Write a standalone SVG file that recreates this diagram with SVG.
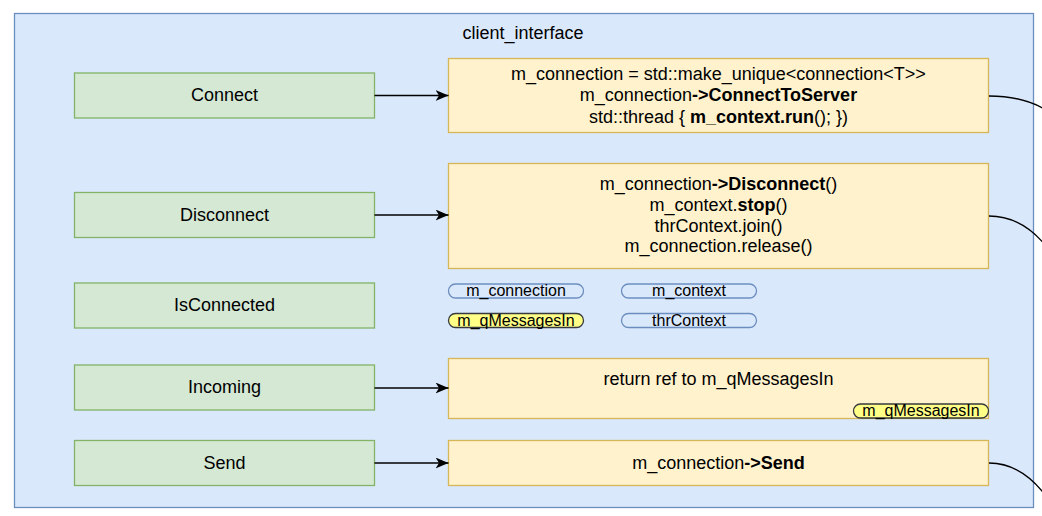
<svg xmlns="http://www.w3.org/2000/svg" width="1042" height="516" viewBox="0 0 1042 516">
<style>
text{font-family:"Liberation Sans",Arial,sans-serif;font-size:18px;fill:#000;text-anchor:middle}
text.s{font-size:16px}
.b{font-weight:bold}
.cont{fill:#dae8fc;stroke:#6c8ebf;stroke-width:1.3}
.g{fill:#d5e8d4;stroke:#82b366;stroke-width:1.3}
.y{fill:#fff2cc;stroke:#d6b656;stroke-width:1.3}
.pill{fill:#dae8fc;stroke:#6c8ebf;stroke-width:1.3}
.pillY{fill:#ffff88;stroke:#36393d;stroke-width:1.3}
.e{fill:none;stroke:#000;stroke-width:1.3}
</style>
<defs>
<marker id="arr" viewBox="0 0 13 11" refX="13" refY="5.5" markerWidth="13" markerHeight="11" markerUnits="userSpaceOnUse" orient="auto">
<path d="M0,0 L13,5.5 L0,11 L3.5,5.5 Z" fill="#000"/>
</marker>
</defs>
<rect width="1042" height="516" fill="#fff"/>
<g id="client_interface">
<rect class="cont" x="14.5" y="13.5" width="1019" height="494"/>
<text x="523" y="38.5">client_interface</text>
</g>
<g id="connect">
<rect class="g" x="74.5" y="73" width="300" height="45"/>
<text x="224.5" y="101">Connect</text>
</g>
<g id="disconnect">
<rect class="g" x="74.5" y="192.5" width="300" height="45"/>
<text x="224.5" y="221">Disconnect</text>
</g>
<g id="isconnected">
<rect class="g" x="74.5" y="283" width="300" height="45"/>
<text x="224.5" y="311">IsConnected</text>
</g>
<g id="incoming">
<rect class="g" x="74.5" y="365" width="300" height="45"/>
<text x="224.5" y="393">Incoming</text>
</g>
<g id="send">
<rect class="g" x="74.5" y="440.5" width="300" height="45"/>
<text x="224.5" y="468.5">Send</text>
</g>
<g id="connect_impl">
<rect class="y" x="448.5" y="58.5" width="540" height="74"/>
<text x="718.5" y="79.5">m_connection = std::make_unique&lt;connection&lt;T&gt;&gt;</text>
<text x="718.5" y="101">m_connection<tspan class="b">-&gt;ConnectToServer</tspan></text>
<text x="718.5" y="122.5">std::thread { <tspan class="b">m_context.run</tspan>(); })</text>
</g>
<g id="disconnect_impl">
<rect class="y" x="448.5" y="163.5" width="540" height="105"/>
<text x="718.5" y="190">m_connection<tspan class="b">-&gt;Disconnect</tspan>()</text>
<text x="718.5" y="210.5">m_context.<tspan class="b">stop</tspan>()</text>
<text x="718.5" y="231.5">thrContext.join()</text>
<text x="718.5" y="252">m_connection.release()</text>
</g>
<g id="m_connection">
<rect class="pill" x="448.5" y="284" width="135" height="14" rx="7"/>
<text class="s" x="516" y="296">m_connection</text>
</g>
<g id="m_context">
<rect class="pill" x="621.5" y="284" width="135" height="14" rx="7"/>
<text class="s" x="689" y="296">m_context</text>
</g>
<g id="m_qMessagesIn">
<rect class="pillY" x="448.5" y="313.5" width="135" height="14" rx="7"/>
<text class="s" x="516" y="325.5">m_qMessagesIn</text>
</g>
<g id="thrContext">
<rect class="pill" x="621.5" y="313.5" width="135" height="14" rx="7"/>
<text class="s" x="689" y="325.5">thrContext</text>
</g>
<g id="incoming_impl">
<rect class="y" x="448.5" y="358.5" width="540" height="60"/>
<text x="718.5" y="384.5">return ref to m_qMessagesIn</text>
</g>
<g id="incoming_pill">
<rect class="pillY" x="853.5" y="404" width="135" height="14" rx="7"/>
<text class="s" x="921" y="416">m_qMessagesIn</text>
</g>
<g id="send_impl">
<rect class="y" x="448.5" y="440.5" width="540" height="45"/>
<text x="718.5" y="468.5">m_connection<tspan class="b">-&gt;Send</tspan></text>
</g>
<g id="connectors">
<path class="e" d="M374.5,95.5 L448.5,95.5" marker-end="url(#arr)"/>
<path class="e" d="M374.5,215 L448.5,215" marker-end="url(#arr)"/>
<path class="e" d="M374.5,388 L448.5,388" marker-end="url(#arr)"/>
<path class="e" d="M374.5,463 L448.5,463" marker-end="url(#arr)"/>
<path class="e" d="M989,96 C1010,96 1028,99 1046,110"/>
<path class="e" d="M989,216 C1008,216 1028,224 1046,246"/>
<path class="e" d="M989,463 C1008,463 1028,472 1046,496"/>
</g>
</svg>
